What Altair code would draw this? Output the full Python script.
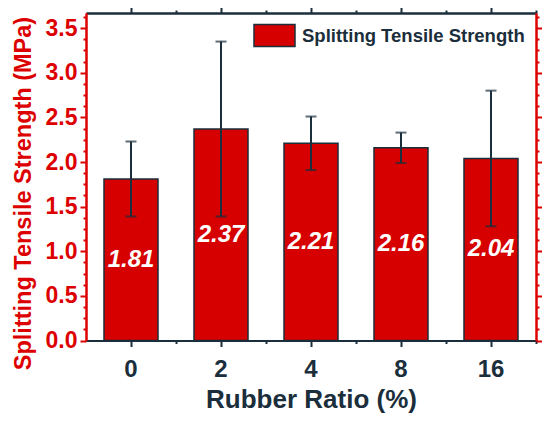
import altair as alt
import pandas as pd

# ---- data ----
categories = ["0", "2", "4", "8", "16"]
strength = [1.81, 2.37, 2.21, 2.16, 2.04]
std_dev = [0.42, 0.98, 0.30, 0.17, 0.76]
series_name = "Splitting Tensile Strength"

y_major = [0.0, 0.5, 1.0, 1.5, 2.0, 2.5, 3.0, 3.5]
y_minor = [i * 0.125 for i in range(0, 30) if (i % 4) != 0]

RED = "#dd0000"
BAR = "#d60000"
DARK = "#1b2e3b"
FONT = "Liberation Sans"

df = pd.DataFrame({
    "cat": categories,
    "value": strength,
    "sd": std_dev,
})
df["lo"] = df["value"] - df["sd"]
df["hi"] = df["value"] + df["sd"]
df["mid"] = df["value"] / 2
df["series"] = series_name

xscale = alt.Scale(paddingInner=0.4, paddingOuter=0.2)
yscale = alt.Scale(domain=[0, 3.67], nice=False, zero=True)

base = alt.Chart(df)

# bars + main axes (bottom x with labels, left y with labels)
bars = base.mark_bar(stroke=DARK, strokeWidth=1.5).encode(
    x=alt.X("cat:N", sort=categories, scale=xscale,
            axis=alt.Axis(orient="bottom", title="Rubber Ratio (%)", labelAngle=0,
                          labelFont=FONT, labelFontSize=24, labelFontWeight="bold",
                          labelColor=DARK, labelPadding=11,
                          titleFont=FONT, titleFontSize=26, titleFontWeight="bold",
                          titleColor=DARK, titlePadding=5,
                          tickColor=DARK, tickSize=6, tickWidth=2,
                          domainColor=DARK, domainWidth=2, grid=False)),
    y=alt.Y("value:Q", scale=yscale,
            axis=alt.Axis(orient="left", values=y_major, format=".1f",
                          title="Splitting Tensile Strength (MPa)",
                          labelFont=FONT, labelFontSize=23, labelFontWeight="bold",
                          labelColor=RED, labelPadding=3,
                          titleFont=FONT, titleFontSize=23.5, titleFontWeight="bold",
                          titleColor=RED, titlePadding=10, titleY=180,
                          tickColor=RED, tickSize=6, tickWidth=2,
                          domainColor=RED, domainWidth=2, grid=False)),
    color=alt.Color("series:N", scale=alt.Scale(range=[BAR]),
                    legend=alt.Legend(orient="none", legendX=167, legendY=1,
                                      title=None, padding=0,
                                      symbolType="M-1,-0.537H1V0.537H-1Z",
                                      symbolSize=1681, symbolStrokeColor=DARK,
                                      symbolStrokeWidth=1.5, symbolOpacity=1,
                                      labelFont=FONT, labelFontSize=18.5,
                                      labelFontWeight="bold", labelColor=DARK,
                                      labelOffset=6, labelLimit=400)),
)

# error bar rule + minor axes (bottom x minor, left y minor)
rules = base.mark_rule(color=DARK, strokeWidth=2).encode(
    x=alt.X("cat:N", sort=categories,
            axis=alt.Axis(orient="bottom", labels=False, title=None,
                          bandPosition=4 / 3, tickColor=DARK, tickSize=3,
                          tickWidth=2, domainColor=DARK, domainWidth=2, grid=False)),
    y=alt.Y("lo:Q",
            axis=alt.Axis(orient="left", values=y_minor, labels=False, title=None,
                          tickColor=RED, tickSize=3, tickWidth=2,
                          domainColor=RED, domainWidth=2, grid=False)),
    y2="hi:Q",
)

# lower caps + top major / right major axes
caps_lo = base.mark_tick(color=DARK, size=11, thickness=2).encode(
    x=alt.X("cat:N", sort=categories,
            axis=alt.Axis(orient="top", labels=False, title=None,
                          tickColor=DARK, tickSize=6, tickWidth=2,
                          domainColor=DARK, domainWidth=2, grid=False)),
    y=alt.Y("lo:Q",
            axis=alt.Axis(orient="right", values=y_major, labels=False, title=None,
                          tickColor=RED, tickSize=6, tickWidth=2,
                          domainColor=RED, domainWidth=2, grid=False)),
)

# upper caps + top minor / right minor axes
caps_hi = base.mark_tick(color=DARK, size=11, thickness=2).encode(
    x=alt.X("cat:N", sort=categories,
            axis=alt.Axis(orient="top", labels=False, title=None,
                          bandPosition=4 / 3, tickColor=DARK, tickSize=3,
                          tickWidth=2, domainColor=DARK, domainWidth=2, grid=False)),
    y=alt.Y("hi:Q",
            axis=alt.Axis(orient="right", values=y_minor, labels=False, title=None,
                          tickColor=RED, tickSize=3, tickWidth=2,
                          domainColor=RED, domainWidth=2, grid=False)),
)

labels = base.mark_text(font=FONT, fontSize=24, fontWeight="bold", fontStyle="italic",
                        color="white", baseline="middle", align="center").encode(
    x=alt.X("cat:N", sort=categories, axis=None),
    y=alt.Y("mid:Q", axis=None),
    text=alt.Text("value:Q", format=".2f"),
)

chart = alt.layer(bars, rules, caps_lo, caps_hi, labels).resolve_axis(
    x="independent", y="independent"
).properties(
    width=450, height=327.5,
    autosize=alt.AutoSizeParams(type="none"),
    padding={"left": 78, "top": 5, "right": 6, "bottom": 73},
).configure_view(stroke=None)

chart.save("out.html", embed_options={"renderer": "svg", "actions": False})
